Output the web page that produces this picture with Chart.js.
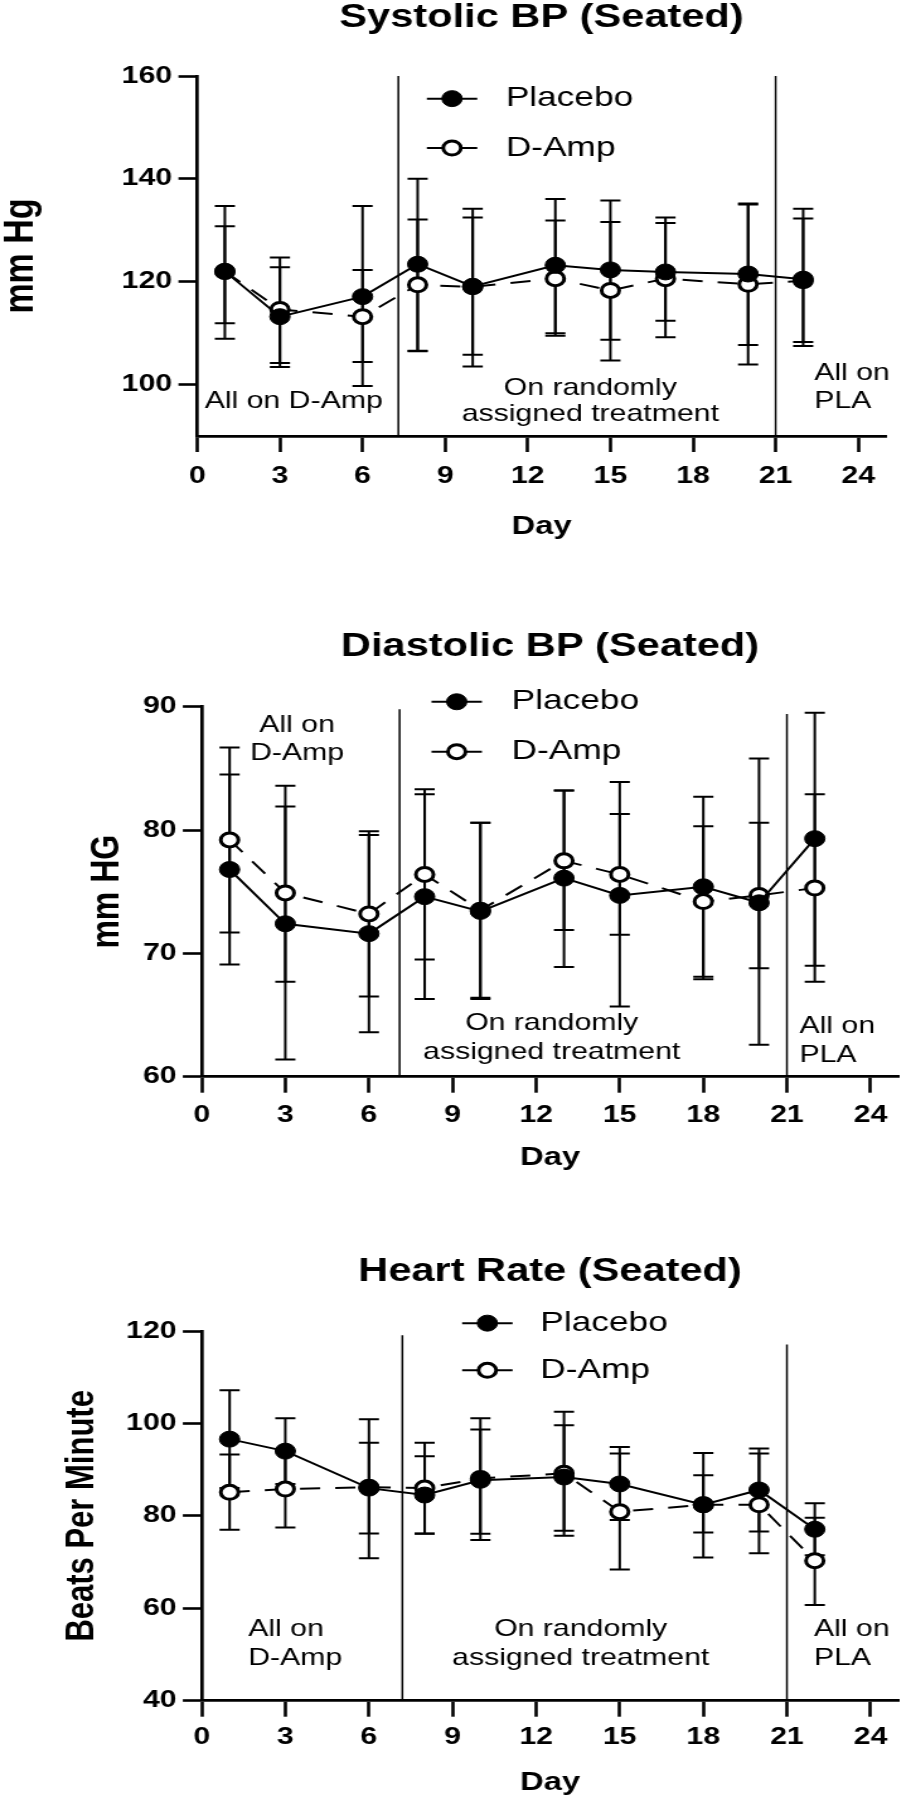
<!DOCTYPE html>
<html>
<head>
<meta charset="utf-8">
<script src="https://cdn.jsdelivr.net/npm/chart.js@4.4.0/dist/chart.umd.min.js"></script>
<style>
  html, body { margin: 0; padding: 0; background: #fff; }
  #page { position: relative; width: 911px; height: 1800px; overflow: hidden; }
  .panel { position: absolute; left: 0; width: 723px; transform: scaleX(1.26); transform-origin: 0 0; }
</style>
</head>
<body>
<div id="page">
  <div class="panel" style="top:0;height:560px"><canvas id="sys"></canvas></div>
  <div class="panel" style="top:580px;height:600px"><canvas id="dia"></canvas></div>
  <div class="panel" style="top:1200px;height:600px"><canvas id="hr"></canvas></div>
</div>
<script>
// days of measurement
var daysSys = [1, 3, 6, 8, 10, 13, 15, 17, 20, 22];
var daysOther = [1, 3, 6, 8, 10, 13, 15, 18, 20, 22];
var dayTicks = [0, 3, 6, 9, 12, 15, 18, 21, 24];
var seriesNames = ['Placebo', 'D-Amp'];

// systolic BP
var sysTicks = [100, 120, 140, 160];
var sysPlacebo = [122, 113.2, 117.1, 123.4, 119.1, 123.2, 122.3, 121.9, 121.5, 120.5];
var sysDamp = [122, 114.6, 113.2, 119.4, 119, 120.6, 118.3, 120.6, 119.5, 120.2];
var sysPlaceboHi = [134.7, 124.7, 134.7, 140, 134.2, 136.1, 135.8, 132.5, 135.2, 134.2];
var sysPlaceboLo = [108.9, 103.4, 99.7, 106.6, 103.5, 110, 108.7, 112.4, 107.7, 108.3];
var sysDampHi = [130.8, 122.8, 122.3, 132.1, 132.5, 131.9, 131.6, 131.4, 135, 132.3];
var sysDampLo = [111.9, 104.2, 104.4, 106.5, 105.8, 109.5, 104.7, 109.2, 103.9, 107.5];

// diastolic BP
var diaTicks = [60, 70, 80, 90];
var diaPlacebo = [76.8, 72.4, 71.6, 74.6, 73.4, 76.1, 74.7, 75.4, 74.1, 79.3];
var diaDamp = [79.2, 74.9, 73.2, 76.4, 73.5, 77.5, 76.4, 74.2, 74.7, 75.3];
var diaPlaceboHi = [84.5, 83.6, 79.6, 82.9, 80.6, 83.2, 83.9, 82.7, 85.8, 89.5];
var diaPlaceboLo = [69.1, 61.4, 63.6, 66.3, 66.3, 68.9, 65.7, 68.1, 62.6, 69.0];
var diaDampHi = [86.7, 81.9, 79.9, 83.3, 80.6, 83.2, 81.3, 80.3, 80.6, 82.9];
var diaDampLo = [71.7, 67.7, 66.5, 69.5, 66.4, 71.9, 71.5, 67.9, 68.8, 67.7];

// heart rate
var hrTicks = [40, 60, 80, 100, 120];
var hrPlacebo = [96.6, 94.0, 86.0, 84.5, 87.7, 88.4, 86.9, 82.4, 85.6, 77.1];
var hrDamp = [85.1, 85.8, 86.2, 86.0, 88.1, 89.2, 80.9, 82.4, 82.4, 70.3];
var hrPlaceboHi = [107.2, 101.1, 100.9, 92.9, 98.7, 99.6, 94.9, 93.6, 94.6, 82.7];
var hrPlaceboLo = [86.0, 86.9, 70.8, 76.1, 74.8, 76.8, 79.1, 71.0, 76.6, 71.5];
var hrDampHi = [93.3, 94.1, 95.8, 95.8, 101.1, 102.5, 93.5, 88.8, 93.5, 79.6];
var hrDampLo = [77.0, 77.5, 76.2, 76.2, 76.1, 75.7, 68.4, 76.4, 71.9, 60.7];

Chart.defaults.font.family = "'Liberation Sans', Arial, Helvetica, sans-serif";
Chart.defaults.color = '#000';

function pts(days, vals) {
    return days.map(function (d, i) { return { x: d, y: vals[i] }; });
}

var panelPlugin = {
    id: 'panel',
    beforeDatasetsDraw: function (chart, args, opts) {
        var ctx = chart.ctx;
        var xs = chart.scales.x, ys = chart.scales.y;
        ctx.save();
        ctx.strokeStyle = '#000';
        // phase dividers
        ctx.lineWidth = 1.5;
        opts.dividers.forEach(function (d) {
            var x = xs.getPixelForValue(d.day);
            ctx.beginPath();
            ctx.moveTo(x, ys.getPixelForValue(d.top));
            ctx.lineTo(x, chart.chartArea.bottom);
            ctx.stroke();
        });
        // error bars
        ctx.lineWidth = 2;
        chart.data.datasets.forEach(function (ds) {
            ds.data.forEach(function (p, i) {
                var x = xs.getPixelForValue(p.x);
                var hi = ys.getPixelForValue(ds.errHi[i]);
                var lo = ys.getPixelForValue(ds.errLo[i]);
                ctx.beginPath();
                ctx.moveTo(x, hi); ctx.lineTo(x, lo);
                ctx.moveTo(x - 8, hi); ctx.lineTo(x + 8, hi);
                ctx.moveTo(x - 8, lo); ctx.lineTo(x + 8, lo);
                ctx.stroke();
            });
        });
        ctx.restore();
    },
    afterDraw: function (chart, args, opts) {
        var ctx = chart.ctx;
        var xs = chart.scales.x, ys = chart.scales.y;
        var area = chart.chartArea;
        ctx.save();
        ctx.fillStyle = '#000';
        ctx.strokeStyle = '#000';
        ctx.textBaseline = 'middle';

        // title
        ctx.font = "bold 33px 'Liberation Sans', Arial, sans-serif";
        ctx.textAlign = 'center';
        ctx.fillText(opts.title, (area.left + area.right) / 2, opts.titleY);

        // legend
        var lx = xs.getPixelForValue(opts.legend.day);
        var tx = xs.getPixelForValue(opts.legend.textDay);
        ctx.font = "28px 'Liberation Sans', Arial, sans-serif";
        ctx.textAlign = 'left';
        chart.data.datasets.forEach(function (ds, i) {
            var y = ys.getPixelForValue(opts.legend.rows[i]);
            ctx.lineWidth = 2;
            ctx.beginPath();
            ctx.moveTo(lx - 20, y); ctx.lineTo(lx + 20, y);
            ctx.stroke();
            ctx.beginPath();
            ctx.arc(lx, y, ds.pointRadius, 0, Math.PI * 2);
            ctx.fillStyle = ds.pointBackgroundColor;
            ctx.fill();
            ctx.lineWidth = ds.pointBorderWidth;
            ctx.stroke();
            ctx.fillStyle = '#000';
            ctx.fillText(ds.label, tx, y);
        });

        // phase notes
        ctx.font = "24px 'Liberation Sans', Arial, sans-serif";
        opts.notes.forEach(function (n) {
            ctx.textAlign = n.align;
            ctx.fillText(n.text, xs.getPixelForValue(n.day), ys.getPixelForValue(n.value));
        });
        ctx.restore();
    }
};

function makeChart(id, cfg) {
    return new Chart(document.getElementById(id), {
        type: 'line',
        data: {
            datasets: [{
                label: seriesNames[0],
                data: pts(cfg.days, cfg.placebo),
                errHi: cfg.placeboHi,
                errLo: cfg.placeboLo,
                borderColor: '#000',
                borderWidth: 2,
                pointRadius: 8,
                pointBackgroundColor: '#000',
                pointBorderColor: '#000',
                pointBorderWidth: 1,
                tension: 0
            }, {
                label: seriesNames[1],
                data: pts(cfg.days, cfg.damp),
                errHi: cfg.dampHi,
                errLo: cfg.dampLo,
                borderColor: '#000',
                borderWidth: 2,
                borderDash: [16, 12],
                pointRadius: 7,
                pointBackgroundColor: '#fff',
                pointBorderColor: '#000',
                pointBorderWidth: 3,
                tension: 0
            }]
        },
        options: {
            responsive: true,
            maintainAspectRatio: false,
            animation: false,
            layout: { padding: { top: cfg.padTop, right: cfg.padRight, bottom: 0, left: 0 } },
            plugins: {
                legend: { display: false },
                tooltip: { enabled: false },
                panel: cfg.panel
            },
            scales: {
                x: {
                    type: 'linear',
                    min: 0,
                    max: 25,
                    afterBuildTicks: function (s) { s.ticks = dayTicks.map(function (v) { return { value: v }; }); },
                    afterFit: function (s) { s.height = cfg.xHeight; },
                    ticks: { font: { size: 24, weight: 'bold' }, padding: cfg.xPad, color: '#000', maxRotation: 0 },
                    grid: { drawOnChartArea: false, tickLength: 16, tickWidth: 2.6, tickColor: '#000' },
                    border: { width: 2.7, color: '#000' },
                    title: { display: true, text: 'Day', color: '#000', font: { size: 26, weight: 'bold' }, padding: { top: 0, bottom: cfg.dayPad } }
                },
                y: {
                    min: cfg.yMin,
                    max: cfg.yMax,
                    afterBuildTicks: function (s) { s.ticks = cfg.yTicks.map(function (v) { return { value: v }; }); },
                    afterFit: function (s) { s.width = cfg.yWidth; },
                    ticks: { font: { size: 24, weight: 'bold' }, padding: 5, color: '#000' },
                    grid: { drawOnChartArea: false, tickLength: 15, tickWidth: 2.6, tickColor: '#000' },
                    border: { width: 2.7, color: '#000' },
                    title: { display: true, text: cfg.yTitle, color: '#000', font: { size: cfg.yTitleSize, weight: 'bold', lineHeight: 1 }, padding: { top: cfg.yTitlePad, bottom: 0 } }
                }
            }
        },
        plugins: [panelPlugin]
    });
}

makeChart('sys', {
    days: daysSys, placebo: sysPlacebo, damp: sysDamp,
    placeboHi: sysPlaceboHi, placeboLo: sysPlaceboLo, dampHi: sysDampHi, dampLo: sysDampLo,
    yMin: 90, yMax: 160, yTicks: sysTicks, yTitle: 'mm Hg', yTitleSize: 34, yTitlePad: 0,
    padTop: 76, padRight: 20, yWidth: 156.6, xHeight: 124, xPad: 9.6, dayPad: 17.4,
    panel: {
        title: 'Systolic BP (Seated)', titleY: 18,
        dividers: [{ day: 7.3, top: 160 }, { day: 21, top: 160 }],
        legend: { day: 9.25, textDay: 11.2, rows: [155.6, 146] },
        notes: [
            { text: 'All on D-Amp', day: 3.5, value: 96.7, align: 'center' },
            { text: 'On randomly', day: 14.27, value: 99.2, align: 'center' },
            { text: 'assigned treatment', day: 14.27, value: 94.3, align: 'center' },
            { text: 'All on', day: 22.4, value: 102.1, align: 'left' },
            { text: 'PLA', day: 22.4, value: 96.7, align: 'left' }
        ]
    }
});

makeChart('dia', {
    days: daysOther, placebo: diaPlacebo, damp: diaDamp,
    placeboHi: diaPlaceboHi, placeboLo: diaPlaceboLo, dampHi: diaDampHi, dampLo: diaDampLo,
    yMin: 60, yMax: 90, yTicks: diaTicks, yTitle: 'mm HG', yTitleSize: 32, yTitlePad: 69,
    padTop: 126.7, padRight: 4.7, yWidth: 160.1, xHeight: 103.3, xPad: 8.6, dayPad: 6.4,
    panel: {
        title: 'Diastolic BP (Seated)', titleY: 67,
        dividers: [{ day: 7.1, top: 89.8 }, { day: 21, top: 89.4 }],
        legend: { day: 9.15, textDay: 11.12, rows: [90.4, 86.35] },
        notes: [
            { text: 'All on', day: 3.42, value: 88.5, align: 'center' },
            { text: 'D-Amp', day: 3.42, value: 86.2, align: 'center' },
            { text: 'On randomly', day: 12.56, value: 64.3, align: 'center' },
            { text: 'assigned treatment', day: 12.56, value: 62.0, align: 'center' },
            { text: 'All on', day: 21.45, value: 64.05, align: 'left' },
            { text: 'PLA', day: 21.45, value: 61.75, align: 'left' }
        ]
    }
});

makeChart('hr', {
    days: daysOther, placebo: hrPlacebo, damp: hrDamp,
    placeboHi: hrPlaceboHi, placeboLo: hrPlaceboLo, dampHi: hrDampHi, dampLo: hrDampLo,
    yMin: 40, yMax: 120, yTicks: hrTicks, yTitle: 'Beats Per Minute', yTitleSize: 31, yTitlePad: 50.2,
    padTop: 131, padRight: 4.7, yWidth: 160.1, xHeight: 99.3, xPad: 6.6, dayPad: 1.4,
    panel: {
        title: 'Heart Rate (Seated)', titleY: 72,
        dividers: [{ day: 7.2, top: 119.1 }, { day: 21, top: 117.1 }],
        legend: { day: 10.25, textDay: 12.15, rows: [121.7, 111.5] },
        notes: [
            { text: 'All on', day: 1.67, value: 55.45, align: 'left' },
            { text: 'D-Amp', day: 1.67, value: 49.2, align: 'left' },
            { text: 'On randomly', day: 13.6, value: 55.45, align: 'center' },
            { text: 'assigned treatment', day: 13.6, value: 49.2, align: 'center' },
            { text: 'All on', day: 21.97, value: 55.45, align: 'left' },
            { text: 'PLA', day: 21.97, value: 49.2, align: 'left' }
        ]
    }
});
</script>
</body>
</html>
